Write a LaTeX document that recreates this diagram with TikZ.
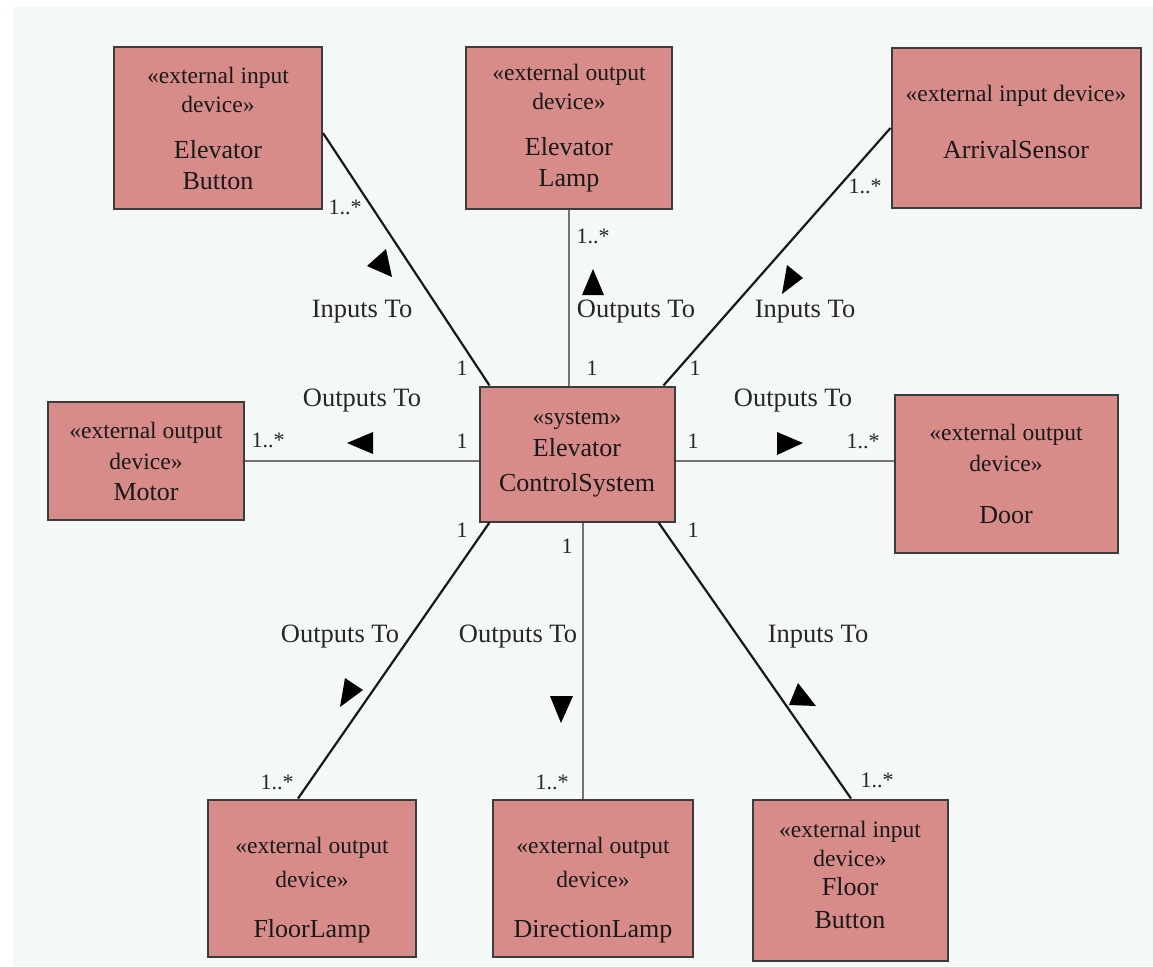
\documentclass[tikz,border=0pt]{standalone}
\usepackage{fontspec}
\setmainfont{Liberation Serif}
\usepackage{xcolor}

\definecolor{devfill}{RGB}{215,140,137}
\definecolor{devline}{RGB}{60,60,60}
\definecolor{panel}{RGB}{244,248,246}
\newcommand{\nm}[1]{{\fontsize{26}{32}\selectfont #1}}

\tikzset{
  device/.style = {draw = devline, fill = devfill, line width = 2pt, inner sep = 0pt, align = center, text = black!90, font = \fontsize{23.5}{31}\selectfont},
  assoc/.style = {line width = 2.2pt, color = black!90},
  straight/.style = {line width = 2.6pt, color = black!55},
  mult/.style = {font = \fontsize{22}{22}\selectfont, text = black!85, inner sep = 0pt},
  role/.style = {font = \fontsize{26.5}{26}\selectfont, text = black!85, inner sep = 0pt},
  dirarrow/.style = {fill = black}
}

\begin{document}
\begin{tikzpicture}[x = 1pt, y = -1pt]
      \useasboundingbox (0, 0) rectangle (1153, 966);
      \fill[panel] (13, 7) rectangle (1153, 966);
      % the system and its devices
      \node [device, minimum width = 195pt, minimum height = 135pt] (sys) at (577, 454) {«system»\\[1pt]\nm{Elevator}\\[4pt]\nm{ControlSystem}};
      \node [device, minimum width = 208pt, minimum height = 162pt] (ebtn) at (218, 128) {«external input\\[-2pt]device»\\[15pt]\nm{Elevator}\\\nm{Button}};
      \node [device, minimum width = 206pt, minimum height = 162pt] (elamp) at (569, 128) {«external output\\[-2pt]device»\\[15pt]\nm{Elevator}\\\nm{Lamp}};
      \node [device, minimum width = 249pt, minimum height = 160pt] (arrsens) at (1016, 128) {«external input device»\\[26pt]\nm{ArrivalSensor}\\[-18pt]};
      \node [device, minimum width = 196pt, minimum height = 118pt] (motor) at (146, 461) {«external output\\device»\\\nm{Motor}};
      \node [device, minimum width = 223pt, minimum height = 158pt] (door) at (1006, 474) {«external output\\device»\\[21pt]\nm{Door}};
      \node [device, minimum width = 208pt, minimum height = 157pt] (flamp) at (312, 878) {«external output\\[3pt]device»\\[19pt]\nm{FloorLamp}\\[-49pt]};
      \node [device, minimum width = 200pt, minimum height = 157pt] (dlamp) at (593, 878) {«external output\\[3pt]device»\\[19pt]\nm{DirectionLamp}\\[-49pt]};
      \node [device, minimum width = 195pt, minimum height = 161pt] (fbtn) at (850, 880) {«external input\\[-2pt]device»\\[-2pt]\nm{Floor}\\[2pt]\nm{Button}\\[-20pt]};
      % associations
      \draw[assoc] ([yshift = -5pt]ebtn.east) -- ([xshift = 11pt]sys.north west);
      \draw[straight] (elamp.south) -- (elamp.south |- sys.north);
      \draw[assoc] (arrsens.west) -- ([xshift = -12pt]sys.north east);
      \draw[straight] (motor.east) -- (motor.east -| sys.west);
      \draw[straight] (sys.east |- motor.east) -- (door.west |- motor.east);
      \draw[assoc] ([xshift = 11pt]sys.south west) -- ([xshift = -14pt]flamp.north);
      \draw[straight] ([xshift = 6pt]sys.south) -- ([xshift = 6pt]sys.south |- dlamp.north);
      \draw[assoc] ([xshift = -17pt]sys.south east) -- ([xshift = 1pt]fbtn.north);
      % multiplicities
      \node [mult] (mebtn) at (345, 207) {1..*};
      \node [mult] (mebtnsys) at (462, 368) {1};
      \node [mult] (melamp) at (593, 236) {1..*};
      \node [mult] (melampsys) at (592, 368) {1};
      \node [mult] (marr) at (865, 186) {1..*};
      \node [mult] (marrsys) at (695, 368) {1};
      \node [mult] (mmotor) at (268, 440) {1..*};
      \node [mult] (mmotorsys) at (462, 441) {1};
      \node [mult] (mdoorsys) at (693, 441) {1};
      \node [mult] (mdoor) at (863, 441) {1..*};
      \node [mult] (mflampsys) at (462, 530) {1};
      \node [mult] (mflamp) at (277, 782) {1..*};
      \node [mult] (mdlampsys) at (567, 546) {1};
      \node [mult] (mdlamp) at (552, 782) {1..*};
      \node [mult] (mfbtnsys) at (693, 530) {1};
      \node [mult] (mfbtn) at (877, 780) {1..*};
      % association names
      \node [role] (rebtn) at (362, 312) {Inputs To};
      \node [role] (relamp) at (636, 312) {Outputs To};
      \node [role] (rarr) at (805, 312) {Inputs To};
      \node [role] (rmotor) at (362, 401) {Outputs To};
      \node [role] (rdoor) at (793, 401) {Outputs To};
      \node [role] (rflamp) at (340, 637) {Outputs To};
      \node [role] (rdlamp) at (518, 637) {Outputs To};
      \node [role] (rfbtn) at (818, 637) {Inputs To};
      % reading directions
      \fill[dirarrow] (367, 266) -- (386, 249) -- (392, 277) -- cycle;
      \fill[dirarrow] (593, 269) -- (604, 295) -- (582, 295) -- cycle;
      \fill[dirarrow] (803, 278) -- (787, 265) -- (782, 294) -- cycle;
      \fill[dirarrow] (347, 443) -- (373, 432) -- (373, 454) -- cycle;
      \fill[dirarrow] (803, 443) -- (777, 432) -- (777, 455) -- cycle;
      \fill[dirarrow] (363, 690) -- (345, 678) -- (340, 707) -- cycle;
      \fill[dirarrow] (561, 723) -- (550, 696) -- (573, 696) -- cycle;
      \fill[dirarrow] (816, 706) -- (798, 683) -- (789, 705) -- cycle;
\end{tikzpicture}
\end{document}
